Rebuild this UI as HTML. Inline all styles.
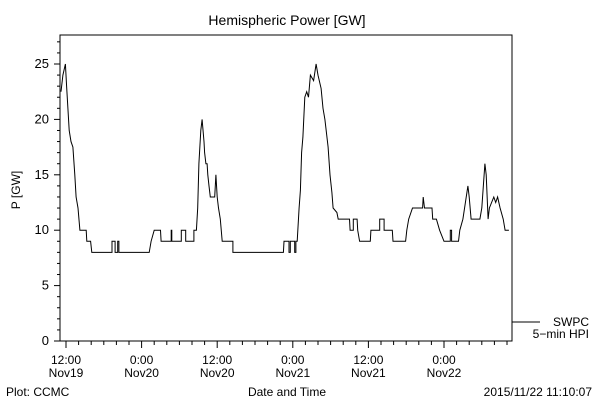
<!DOCTYPE html>
<html><head><meta charset="utf-8"><style>
body{margin:0;background:#fff;}
svg{display:block;font-family:"Liberation Sans",sans-serif;}
</style></head><body>
<svg id="chart" width="600" height="400" viewBox="0 0 600 400">
<rect width="600" height="400" fill="#fff"/>
<text x="287" y="25" font-size="14" text-anchor="middle">Hemispheric Power [GW]</text>
<text transform="translate(20,190) rotate(-90)" font-size="12" text-anchor="middle">P [GW]</text>
<rect x="60" y="35" width="452" height="306" fill="none" stroke="#000" stroke-width="1"/>
<g id="yticks"></g><g id="xticks"></g>
<polyline id="series" fill="none" stroke="#000" stroke-width="1"/>
<line x1="512" y1="322" x2="540" y2="322" stroke="#000"/>
<text x="589" y="326" font-size="12" text-anchor="end">SWPC</text>
<text x="589" y="338" font-size="12" text-anchor="end">5−min HPI</text>
<text x="287" y="396" font-size="12" text-anchor="middle">Date and Time</text>
<text x="6" y="396" font-size="12">Plot: CCMC</text>
<text x="592" y="396" font-size="12" text-anchor="end">2015/11/22 11:10:07</text>
</svg>
<script>
const times=[11.2,11.5,11.9,12.1,12.3,12.5,12.8,13.1,13.4,13.6,13.9,14.2,15.2,15.3,15.9,16.1,19.3,19.3,19.8,19.8,20.2,20.2,20.4,20.4,25.2,25.5,26.0,27.0,27.1,28.7,28.7,28.8,28.8,30.3,30.3,31.0,31.0,32.3,32.3,32.7,32.9,33.1,33.4,33.6,33.9,34.0,34.2,34.4,34.5,34.7,34.9,35.6,35.8,36.0,36.2,36.5,36.8,38.5,38.5,46.5,46.6,47.4,47.4,47.6,47.6,48.3,48.3,48.5,48.5,48.7,49.0,49.2,49.4,49.6,49.9,50.2,50.5,50.8,51.3,51.7,52.0,52.5,52.8,53.1,53.6,53.9,54.2,54.4,55.0,55.2,57.0,57.1,57.6,57.6,58.2,58.3,58.6,60.3,60.4,61.8,61.8,62.5,62.5,63.8,63.9,65.9,66.1,66.4,67.0,68.6,68.7,68.9,70.1,70.2,70.8,71.3,72.0,73.0,73.0,73.2,73.2,74.3,74.5,75.0,75.8,76.0,76.3,77.7,78.0,78.5,78.7,79.0,79.2,79.9,80.2,80.5,80.9,81.4,81.7,82.3];
const power=[22.5,24,25,23,21,19,18,17.5,15,13,12,10,10,9,9,8,8,9,9,8,8,9,9,8,8,9,10,10,9,9,10,10,9,9,10,10,9,9,10,10,12,16,19,20,18,17,16,16,15,14,13,13,15,13,12,11,9,9,8,8,9,9,8,8,9,9,8,8,9,9,12,13.6,17,18.4,22,22.5,22,24,23.5,25,24,22.8,21,20,17.5,15,13.4,12,11.6,11,11,10,10,11,11,10,9,9,10,10,11,11,10,10,9,9,10,11,12,12,13,12,12,11,11,10,9,9,10,10,9,9,10,11,14,13,11,11,12,16,15,11,12,13,12.5,13,12,11,10,10];
const yTickValues=[0,5,10,15,20,25];
const yTickLabels=["0","5","10","15","20","25"];
const xMajorHours=[12,24,36,48,60,72];
const xTickLabels=[["12:00","Nov19"],["0:00","Nov20"],["12:00","Nov20"],["0:00","Nov21"],["12:00","Nov21"],["0:00","Nov22"]];
const NS="http://www.w3.org/2000/svg";
function xs(t){return 66+(t-12)*6.3;}
function ys(v){return 341-v*11.08;}
function mk(tag,attrs,parent){const e=document.createElementNS(NS,tag);for(const k in attrs)e.setAttribute(k,attrs[k]);parent.appendChild(e);return e;}
const yg=document.getElementById('yticks');
for(let v=0;v<=27;v++){const major=v%5===0;const l=mk('line',{x1:60,x2:major?54:57,y1:ys(v),y2:ys(v),stroke:'#000'},yg);

}
yTickValues.forEach((v,i)=>{const t=mk('text',{x:49,y:ys(v)+4,'font-size':13,'text-anchor':'end'},yg);t.textContent=yTickLabels[i];

});
const xg=document.getElementById('xticks');
for(let h=12;h<=82;h+=2){const major=h%12===0;const l=mk('line',{x1:xs(h),x2:xs(h),y1:341,y2:major?348:345,stroke:'#000'},xg);

}
xMajorHours.forEach((h,i)=>{[0,1].forEach(r=>{const t=mk('text',{x:xs(h),y:364+r*13,'font-size':12,'text-anchor':'middle'},xg);t.textContent=xTickLabels[i][r];

});});
document.getElementById('series').setAttribute('points',times.map((t,i)=>xs(t).toFixed(1)+','+ys(power[i]).toFixed(1)).join(' '));
</script>
</body></html>
